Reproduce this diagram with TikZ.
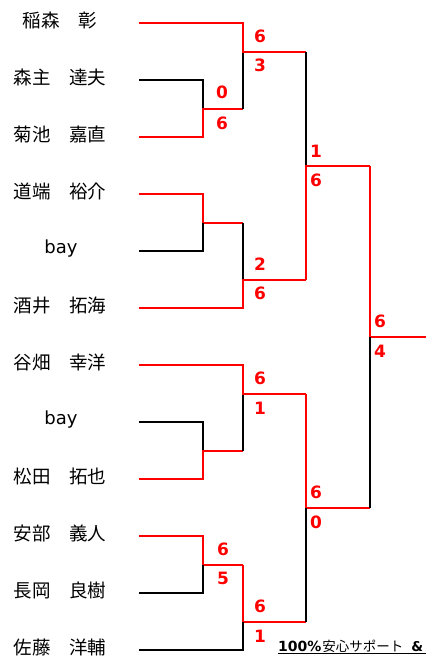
\documentclass[tikz,border=0pt]{standalone}
\usepackage{fontspec}
\setmainfont{DejaVu Sans}
\newfontfamily\jpfont{Noto Sans CJK JP}
\newfontfamily\latfont{DejaVu Sans}
\definecolor{winred}{HTML}{FF0000}
\tikzset{
  pname/.style={inner sep=0pt, anchor=center, font=\jpfont\fontsize{18.5}{18.5}\selectfont},
  byename/.style={inner sep=0pt, anchor=center, font=\latfont\fontsize{18}{18}\selectfont},
  score/.style={inner sep=0pt, anchor=center, text=winred, font=\latfont\bfseries\fontsize{17}{17}\selectfont},
  winline/.style={draw=winred, line width=1.6pt, line join=miter},
  loseline/.style={draw=black, line width=2pt, line join=miter},
}
\begin{document}
\begin{tikzpicture}[x=1pt,y=-1pt]
\useasboundingbox (0,0) rectangle (426,657);
\clip (0,0) rectangle (426,657);
% players
\node[pname] (n1) at (60,20.5) {稲森　彰};
\node[pname] (n2) at (60,77.5) {森主　達夫};
\node[pname] (n3) at (60,134.5) {菊池　嘉直};
\node[pname] (n4) at (60,191.5) {道端　裕介};
\node[byename] (n5) at (61,248.5) {bay};
\node[pname] (n6) at (60,305.5) {酒井　拓海};
\node[pname] (n7) at (60,362.5) {谷畑　幸洋};
\node[byename] (n8) at (61,419.5) {bay};
\node[pname] (n9) at (60,476.5) {松田　拓也};
\node[pname] (n10) at (60,533.5) {安部　義人};
\node[pname] (n11) at (60,590.5) {長岡　良樹};
\node[pname] (n12) at (60,647.5) {佐藤　洋輔};
% line starts
\foreach \i/\y in {1/23,2/80,3/137,4/194,5/251,6/308,7/365,8/422,9/479,10/536,11/593,12/650}
  \coordinate (s\i) at (139,\y);
% junctions
\coordinate (jA) at (203,109);
\coordinate (jB) at (203,223);
\coordinate (jC) at (203,451);
\coordinate (jD) at (203,565);
\coordinate (k1) at (243,52);
\coordinate (k2) at (243,280);
\coordinate (k3) at (243,394);
\coordinate (k4) at (243,622);
\coordinate (t1) at (306,166);
\coordinate (t2) at (306,508);
\coordinate (f) at (370,337);
\coordinate (fend) at (426,337);
% round 1
\draw[loseline] (s2) -| (jA);
\draw[winline] (s3) -| (jA) -- (jA -| k1);
\draw[winline] (s4) -| (jB) -- (jB -| k2);
\draw[loseline] (s5) -| (jB);
\draw[loseline] (s8) -| (jC);
\draw[winline] (s9) -| (jC) -- (jC -| k3);
\draw[winline] (s10) -| (jD) -- (jD -| k4);
\draw[loseline] (s11) -| (jD);
% round 2
\draw[loseline] (k1) -- (jA -| k1);
\draw[winline] (s1) -| (k1) -- (k1 -| t1);
\draw[loseline] (jB -| k2) -- (k2);
\draw[winline] (s6) -| (k2) -- (k2 -| t1);
\draw[loseline] (k3) -- (jC -| k3);
\draw[winline] (s7) -| (k3) -- (k3 -| t2);
\draw[winline] (jD -| k4) -- (k4) -- (k4 -| t2);
\draw[loseline] (s12) -| (k4);
% round 3
\draw[loseline] (k1 -| t1) -- (t1);
\draw[winline] (k2 -| t1) -- (t1) -- (t1 -| f);
\draw[winline] (k3 -| t2) -- (t2) -- (t2 -| f);
\draw[loseline] (t2) -- (k4 -| t2);
% final
\draw[winline] (t1 -| f) -- (f) -- (fend);
\draw[loseline] (f) -- (t2 -| f);
% scores
\node[score] (a1) at (222,92.5) {0};
\node[score] (a2) at (222,123) {6};
\node[score] (d1) at (223,549) {6};
\node[score] (d2) at (223,578.5) {5};
\node[score] (m1a) at (260,36) {6};
\node[score] (m1b) at (260,65.5) {3};
\node[score] (m2a) at (260,264) {2};
\node[score] (m2b) at (260,293) {6};
\node[score] (m3a) at (260,378) {6};
\node[score] (m3b) at (260,408) {1};
\node[score] (m4a) at (260,606) {6};
\node[score] (m4b) at (260,636) {1};
\node[score] (r1a) at (316,151) {1};
\node[score] (r1b) at (316,180) {6};
\node[score] (r2a) at (316,492) {6};
\node[score] (r2b) at (316,522) {0};
\node[score] (fa) at (380,321) {6};
\node[score] (fb) at (380,351) {4};
% footer
\node[inner sep=0pt, anchor=base west] (foot) at (278,651)
  {{\latfont\bfseries\fontsize{14}{14}\selectfont 100\%}\hspace{1pt}{\jpfont\fontsize{13.5}{13.5}\selectfont 安心サポート}\hspace{8pt}{\latfont\bfseries\fontsize{13.5}{13.5}\selectfont\&}};
\draw[line width=1pt] (foot.base west) ++(0,2.5) -- ++(148,0);
\end{tikzpicture}
\end{document}
